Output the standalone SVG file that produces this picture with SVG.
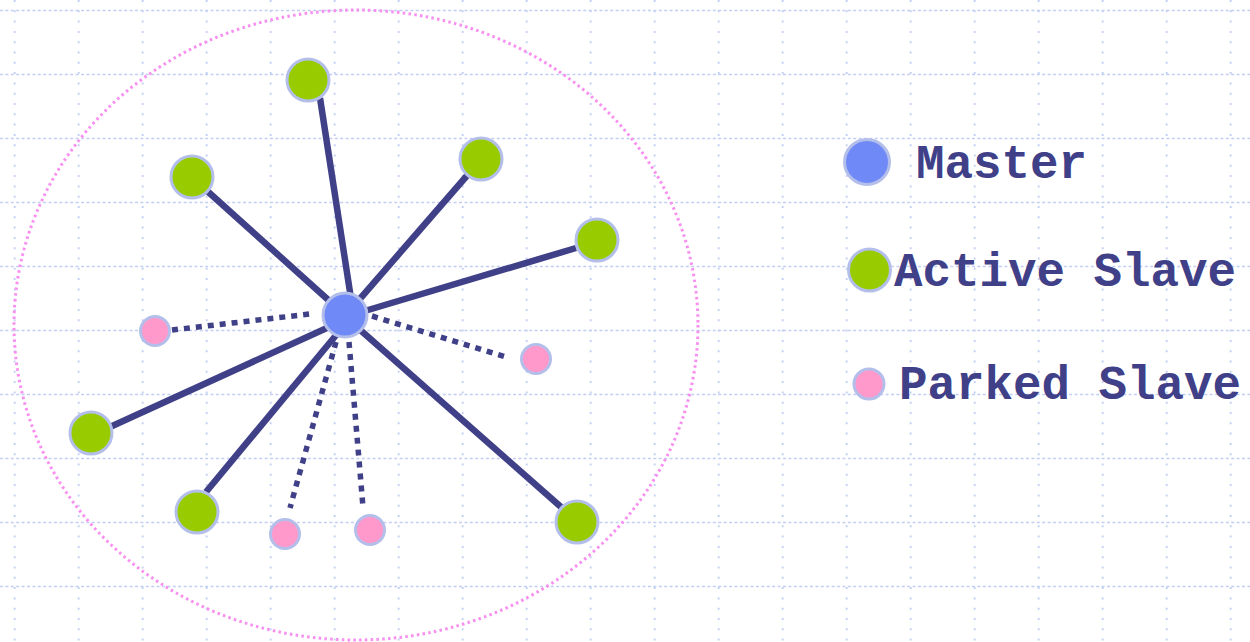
<svg xmlns="http://www.w3.org/2000/svg" width="1250" height="642" viewBox="0 0 1250 642">
  <defs>
    <style>
      .gh { stroke: #c3cff2; stroke-width: 1.6; stroke-dasharray: 3 2.4; fill: none; }
      .gv { stroke: #c3cff2; stroke-width: 1.8; stroke-dasharray: 2 8.3; fill: none; }
      .link { stroke: #404088; stroke-width: 6.5; fill: none; }
      .park { stroke: #404088; stroke-width: 5.5; stroke-dasharray: 6 6; fill: none; }
      .master { fill: #6f8af7; stroke: #b3bfea; stroke-width: 3; }
      .active { fill: #99cc00; stroke: #b3bfea; stroke-width: 3; }
      .parked { fill: #ff99cc; stroke: #b3bfea; stroke-width: 3; }
      .label { font-family: "Liberation Mono", "Courier New", monospace; font-weight: bold; font-size: 47.5px; fill: #404088; }
    </style>
  </defs>

  <rect width="1250" height="642" fill="#ffffff"/>

  <!-- dotted background grid -->
  <g id="grid">
    <path class="gh" d="M0 10.5H1250M0 74.5H1250M0 138.5H1250M0 202.5H1250M0 266.5H1250M0 330.5H1250M0 394.5H1250M0 458.5H1250M0 522.5H1250M0 586.5H1250"/>
    <path class="gv" d="M14.7 0V642M78.7 0V642M142.7 0V642M206.7 0V642M270.7 0V642M334.7 0V642M398.7 0V642M462.7 0V642M526.7 0V642M590.7 0V642M654.7 0V642M718.7 0V642M782.7 0V642M846.7 0V642M910.7 0V642M974.7 0V642M1038.7 0V642M1102.7 0V642M1166.7 0V642M1230.7 0V642"/>
  </g>

  <!-- piconet boundary -->
  <ellipse id="piconet" cx="356" cy="325" rx="342" ry="315" fill="none" stroke="#f88ef0" stroke-width="3" stroke-dasharray="2.5 3.3"/>

  <g id="connectors">
    <line class="link" x1="320" y1="98" x2="352" y2="305"/>
    <line class="link" x1="205" y1="189" x2="345" y2="315"/>
    <line class="link" x1="471" y1="171" x2="352" y2="308"/>
    <line class="link" x1="576" y1="248" x2="358" y2="313"/>
    <line class="link" x1="110" y1="427" x2="340" y2="322"/>
    <line class="link" x1="206" y1="492" x2="342" y2="328"/>
    <line class="link" x1="561" y1="507" x2="358" y2="328"/>
    <line class="park" x1="172" y1="330" x2="310" y2="314"/>
    <line class="park" x1="372" y1="316" x2="506" y2="357"/>
    <line class="park" x1="336" y1="342" x2="290" y2="508"/>
    <line class="park" x1="349" y1="342" x2="363" y2="507"/>
  </g>

  <g id="master"><circle class="master" cx="345" cy="315" r="22"/></g>

  <g id="active-1"><circle class="active" cx="308" cy="80" r="21"/></g>
  <g id="active-2"><circle class="active" cx="192" cy="177" r="21"/></g>
  <g id="active-3"><circle class="active" cx="481" cy="159" r="21"/></g>
  <g id="active-4"><circle class="active" cx="597" cy="240" r="21"/></g>
  <g id="active-5"><circle class="active" cx="91" cy="433" r="21"/></g>
  <g id="active-6"><circle class="active" cx="197" cy="512" r="21"/></g>
  <g id="active-7"><circle class="active" cx="577" cy="522" r="21"/></g>

  <g id="parked-1"><circle class="parked" cx="155" cy="331" r="14.5"/></g>
  <g id="parked-2"><circle class="parked" cx="536" cy="359" r="14.5"/></g>
  <g id="parked-3"><circle class="parked" cx="285" cy="534" r="14.5"/></g>
  <g id="parked-4"><circle class="parked" cx="370" cy="530" r="14.5"/></g>

  <!-- legend -->
  <g id="legend-master">
    <circle class="master" cx="867" cy="162" r="22.5"/>
    <text class="label" x="916" y="178">Master</text>
  </g>
  <g id="legend-active">
    <circle class="active" cx="869.5" cy="270" r="21"/>
    <text class="label" x="894" y="286">Active Slave</text>
  </g>
  <g id="legend-parked">
    <circle class="parked" cx="869" cy="384" r="15"/>
    <text class="label" x="899" y="399">Parked Slave</text>
  </g>
</svg>
